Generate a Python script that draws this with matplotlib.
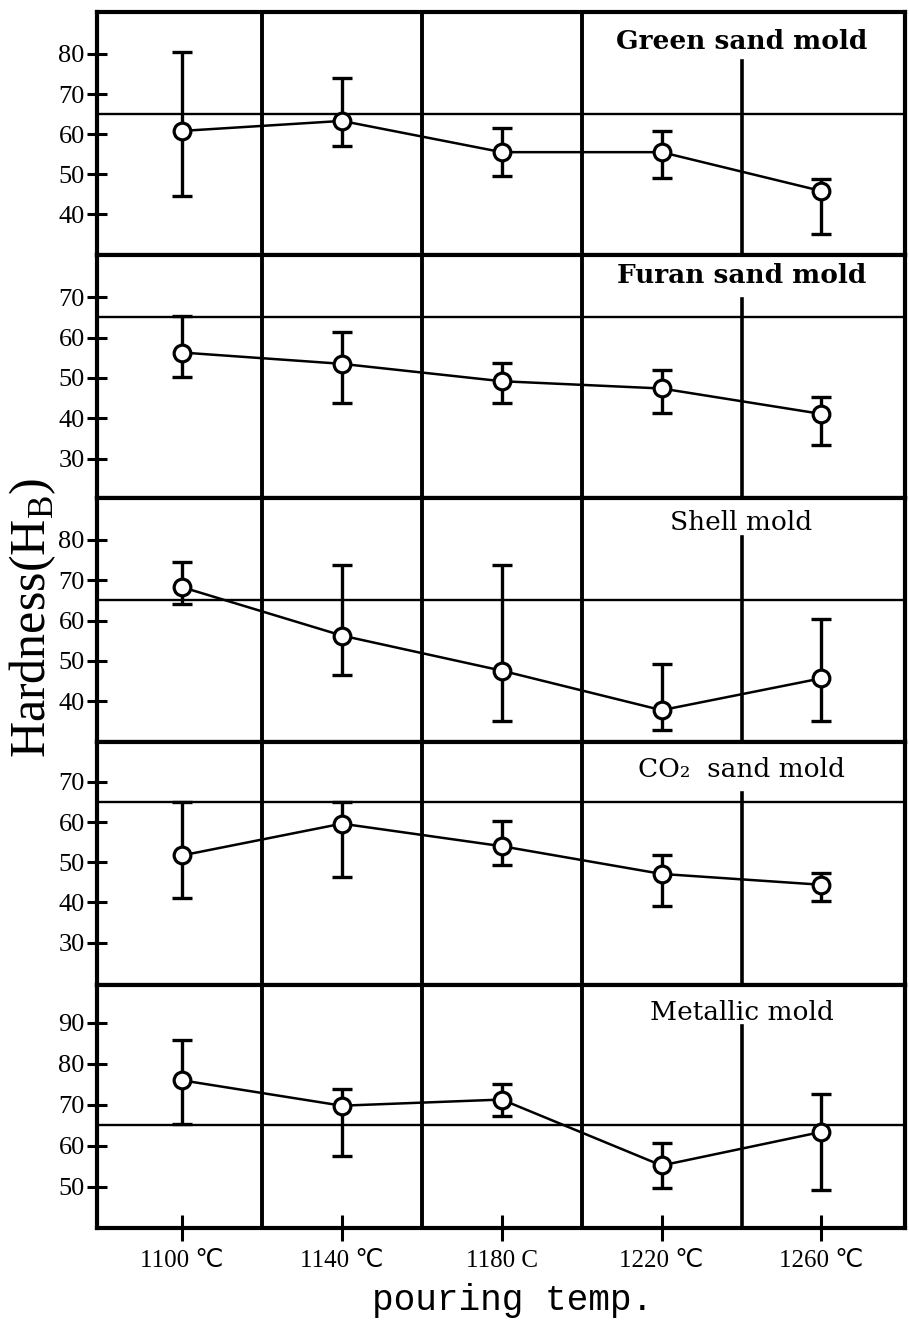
import matplotlib
matplotlib.use("Agg")
import matplotlib.pyplot as plt
import numpy as np

# pouring temperatures (x positions)
temps = [1100, 1140, 1180, 1220, 1260]
temp_labels = ["1100 ℃", "1140 ℃", "1180 C", "1220 ℃", "1260 ℃"]
divider_temps = [1120, 1160, 1200]
partial_divider = 1240
ref_hardness = 65

# mold types, top to bottom
molds = ["Green sand mold", "Furan sand mold", "Shell mold",
         "CO₂  sand mold", "Metallic mold"]

# hardness means and error bar ends
green_mean = [60.8, 63.3, 55.5, 55.5, 45.8]
green_upper = [80.5, 74.0, 61.5, 60.8, 48.8]
green_lower = [44.5, 57.0, 49.5, 49.0, 35.0]

furan_mean = [56.3, 53.5, 49.2, 47.4, 41.1]
furan_upper = [65.3, 61.5, 53.6, 51.9, 45.2]
furan_lower = [50.3, 43.7, 43.9, 41.3, 33.5]

shell_mean = [68.3, 56.3, 47.6, 37.8, 45.7]
shell_upper = [74.5, 73.8, 73.8, 49.3, 60.3]
shell_lower = [64.1, 46.6, 35.2, 33.0, 35.0]

co2_mean = [51.7, 59.6, 54.0, 47.1, 44.4]
co2_upper = [65.0, 65.0, 60.2, 51.7, 47.3]
co2_lower = [41.0, 46.4, 49.2, 39.1, 40.3]

metal_mean = [76.0, 69.8, 71.3, 55.2, 63.4]
metal_upper = [85.8, 73.9, 75.1, 60.8, 72.6]
metal_lower = [65.3, 57.5, 67.3, 49.6, 49.2]

means = [green_mean, furan_mean, shell_mean, co2_mean, metal_mean]
uppers = [green_upper, furan_upper, shell_upper, co2_upper, metal_upper]
lowers = [green_lower, furan_lower, shell_lower, co2_lower, metal_lower]

# axis ranges and ticks per panel
ylims = [(29.8, 90.5), (20.2, 80.4), (30.0, 90.3), (19.5, 80.0), (39.9, 99.3)]
yticks = [[40, 50, 60, 70, 80], [30, 40, 50, 60, 70], [40, 50, 60, 70, 80],
          [30, 40, 50, 60, 70], [50, 60, 70, 80, 90]]
title_weights = ["bold", "bold", "normal", "normal", "normal"]
title_ypos = [0.877, 0.915, 0.90, 0.885, 0.888]
partial_top = [0.80, 0.82, 0.84, 0.79, 0.83]

plt.rcParams['font.family'] = ['Liberation Serif', 'DejaVu Sans']
plt.rcParams['mathtext.fontset'] = 'custom'
plt.rcParams['mathtext.rm'] = 'Liberation Serif'

fig = plt.figure(figsize=(9.09, 13.22), dpi=100)
gs = fig.add_gridspec(5, 1, left=0.107, right=0.996, top=0.991, bottom=0.071,
                      hspace=0)
axes = [fig.add_subplot(gs[i]) for i in range(5)]

for i, ax in enumerate(axes):
    m = np.array(means[i])
    up = np.array(uppers[i])
    lo = np.array(lowers[i])
    ax.errorbar(temps, m, yerr=[m - lo, up - m], fmt='none', ecolor='black',
                elinewidth=2.4, capsize=7, capthick=2.4, zorder=3)
    ax.plot(temps, m, color='black', lw=1.8, zorder=4)
    ax.plot(temps, m, 'o', ms=12, mfc='white', mec='black', mew=2.3, zorder=5)

    for xv in divider_temps:
        ax.axvline(xv, color='black', lw=2.8, zorder=2)
    ax.axvline(partial_divider, ymin=0, ymax=partial_top[i], color='black',
               lw=2.6, zorder=2)
    ax.axhline(ref_hardness, color='black', lw=1.7, zorder=2)

    ax.text(1240, title_ypos[i], molds[i], transform=ax.get_xaxis_transform(),
            ha='center', va='center', fontsize=19, family='DejaVu Serif',
            fontweight=title_weights[i])

    ax.set_xlim(1078.8, 1281)
    ax.set_ylim(*ylims[i])
    ax.set_yticks(yticks[i])
    ax.tick_params(axis='y', direction='inout', length=14, width=2.2,
                   labelsize=19, pad=2)
    for s in ax.spines.values():
        s.set_linewidth(3)
    if i < 4:
        ax.tick_params(axis='x', bottom=False, labelbottom=False)
    else:
        ax.set_xticks(temps)
        ax.set_xticklabels(temp_labels)
        ax.tick_params(axis='x', direction='inout', length=19, width=2.2,
                       labelsize=18, pad=6)

fig.text(0.036, 0.533, 'Hardness(H$_{\\rm B}$)', rotation=90, ha='center',
         va='center', fontsize=36)
fig.text(0.564, 0.0166, 'pouring temp.', ha='center', va='center',
         fontsize=26, family='Liberation Mono')

fig.savefig('out.png', dpi=100)
